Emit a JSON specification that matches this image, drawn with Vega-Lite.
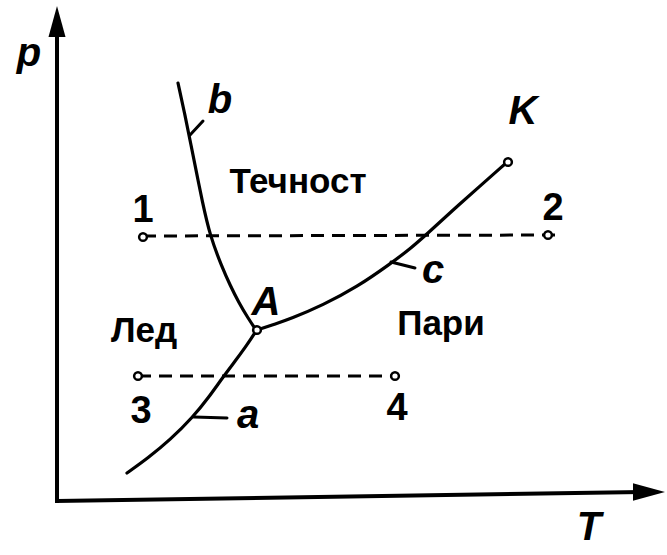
{
  "$schema": "https://vega.github.io/schema/vega-lite/v6.json",
  "width": 667,
  "height": 555,
  "autosize": {"type": "fit", "contains": "padding"},
  "padding": 0,
  "background": "white",
  "config": {"view": {"stroke": null}},
  "datasets": {
    "axes": [
      {"id": "p", "i": 0, "T": 57, "p": 501},
      {"id": "p", "i": 1, "T": 57, "p": 30},
      {"id": "T", "i": 0, "T": 57, "p": 501},
      {"id": "T", "i": 1, "T": 640, "p": 492}
    ],
    "arrowUp": [{"T": 57, "p": 21.5}],
    "arrowRight": [{"T": 649, "p": 492}],
    "curves": [
      {"id": "b", "i": 0, "T": 178, "p": 83},
      {"id": "b", "i": 1, "T": 185, "p": 115},
      {"id": "b", "i": 2, "T": 191, "p": 145},
      {"id": "b", "i": 3, "T": 197, "p": 175},
      {"id": "b", "i": 4, "T": 202, "p": 200},
      {"id": "b", "i": 5, "T": 210, "p": 236},
      {"id": "b", "i": 6, "T": 222, "p": 267},
      {"id": "b", "i": 7, "T": 230, "p": 285},
      {"id": "b", "i": 8, "T": 239, "p": 303},
      {"id": "b", "i": 9, "T": 248, "p": 318},
      {"id": "b", "i": 10, "T": 256, "p": 330},
      {"id": "a", "i": 0, "T": 256, "p": 331},
      {"id": "a", "i": 1, "T": 247, "p": 345},
      {"id": "a", "i": 2, "T": 236, "p": 360},
      {"id": "a", "i": 3, "T": 223, "p": 377},
      {"id": "a", "i": 4, "T": 209, "p": 397},
      {"id": "a", "i": 5, "T": 193, "p": 417},
      {"id": "a", "i": 6, "T": 170, "p": 440},
      {"id": "a", "i": 7, "T": 148, "p": 458},
      {"id": "a", "i": 8, "T": 127, "p": 473},
      {"id": "c", "i": 0, "T": 257, "p": 330},
      {"id": "c", "i": 1, "T": 275, "p": 324},
      {"id": "c", "i": 2, "T": 290, "p": 319},
      {"id": "c", "i": 3, "T": 323, "p": 305},
      {"id": "c", "i": 4, "T": 357, "p": 287},
      {"id": "c", "i": 5, "T": 390, "p": 264},
      {"id": "c", "i": 6, "T": 410, "p": 249},
      {"id": "c", "i": 7, "T": 427, "p": 234},
      {"id": "c", "i": 8, "T": 453, "p": 210},
      {"id": "c", "i": 9, "T": 480, "p": 186},
      {"id": "c", "i": 10, "T": 505, "p": 164}
    ],
    "leaders": [
      {"id": "b", "i": 0, "T": 190, "p": 135},
      {"id": "b", "i": 1, "T": 203, "p": 121},
      {"id": "c", "i": 0, "T": 391, "p": 262},
      {"id": "c", "i": 1, "T": 415, "p": 268},
      {"id": "a", "i": 0, "T": 194, "p": 417},
      {"id": "a", "i": 1, "T": 227, "p": 418}
    ],
    "dashed": [
      {"id": "12", "i": 0, "T": 143, "p": 236},
      {"id": "12", "i": 1, "T": 560, "p": 235},
      {"id": "34", "i": 0, "T": 138, "p": 376},
      {"id": "34", "i": 1, "T": 395, "p": 376}
    ],
    "points": [
      {"name": "1", "T": 143, "p": 237},
      {"name": "2", "T": 548, "p": 235},
      {"name": "3", "T": 138, "p": 376},
      {"name": "4", "T": 395, "p": 376},
      {"name": "A", "T": 257, "p": 330},
      {"name": "K", "T": 508, "p": 162}
    ],
    "regions": [
      {"label": "Течност", "T": 298, "p": 193},
      {"label": "Лед", "T": 144, "p": 342},
      {"label": "Пари", "T": 441, "p": 335}
    ],
    "digits": [
      {"label": "1", "T": 143, "p": 222},
      {"label": "2", "T": 553, "p": 220},
      {"label": "3", "T": 141, "p": 423},
      {"label": "4", "T": 397, "p": 420}
    ],
    "letters": [
      {"label": "p", "T": 29, "p": 66},
      {"label": "b", "T": 220, "p": 113},
      {"label": "K", "T": 523, "p": 124},
      {"label": "c", "T": 433, "p": 283},
      {"label": "A", "T": 266, "p": 315},
      {"label": "a", "T": 248, "p": 428},
      {"label": "T", "T": 589, "p": 540}
    ]
  },
  "encoding": {
    "x": {"field": "T", "type": "quantitative", "scale": {"domain": [0, 667], "nice": false, "zero": false}, "axis": null},
    "y": {"field": "p", "type": "quantitative", "scale": {"domain": [0, 555], "nice": false, "zero": false, "reverse": true}, "axis": null}
  },
  "layer": [
    {
      "data": {"name": "axes"},
      "mark": {"type": "line", "color": "black", "strokeWidth": 4, "strokeCap": "square"},
      "encoding": {"detail": {"field": "id"}, "order": {"field": "i", "type": "quantitative"}}
    },
    {
      "data": {"name": "arrowUp"},
      "mark": {"type": "point", "shape": "M0,-1L0.55,1L-0.55,1Z", "size": 961, "filled": true, "color": "black", "opacity": 1, "strokeWidth": 0}
    },
    {
      "data": {"name": "arrowRight"},
      "mark": {"type": "point", "shape": "M1,0L-1,0.55L-1,-0.55Z", "size": 1024, "filled": true, "color": "black", "opacity": 1, "strokeWidth": 0}
    },
    {
      "data": {"name": "dashed"},
      "mark": {"type": "line", "color": "black", "strokeWidth": 3, "strokeDash": [13, 8]},
      "encoding": {"detail": {"field": "id"}, "order": {"field": "i", "type": "quantitative"}}
    },
    {
      "data": {"name": "curves"},
      "mark": {"type": "line", "color": "black", "strokeWidth": 3.2, "interpolate": "basis", "strokeCap": "round"},
      "encoding": {"detail": {"field": "id"}, "order": {"field": "i", "type": "quantitative"}}
    },
    {
      "data": {"name": "leaders"},
      "mark": {"type": "line", "color": "black", "strokeWidth": 3, "strokeCap": "round"},
      "encoding": {"detail": {"field": "id"}, "order": {"field": "i", "type": "quantitative"}}
    },
    {
      "data": {"name": "points"},
      "mark": {"type": "point", "shape": "circle", "size": 60, "filled": false, "fill": "white", "stroke": "black", "strokeWidth": 2.5, "opacity": 1, "fillOpacity": 1}
    },
    {
      "data": {"name": "regions"},
      "mark": {"type": "text", "font": "Liberation Sans", "fontWeight": "bold", "fontSize": 35, "align": "center", "baseline": "alphabetic", "color": "black"},
      "encoding": {"text": {"field": "label"}}
    },
    {
      "data": {"name": "digits"},
      "mark": {"type": "text", "font": "Liberation Sans", "fontWeight": "bold", "fontSize": 38, "align": "center", "baseline": "alphabetic", "color": "black"},
      "encoding": {"text": {"field": "label"}}
    },
    {
      "data": {"name": "letters"},
      "mark": {"type": "text", "font": "Liberation Sans", "fontWeight": "bold", "fontStyle": "italic", "fontSize": 40, "align": "center", "baseline": "alphabetic", "color": "black"},
      "encoding": {"text": {"field": "label"}}
    }
  ]
}
